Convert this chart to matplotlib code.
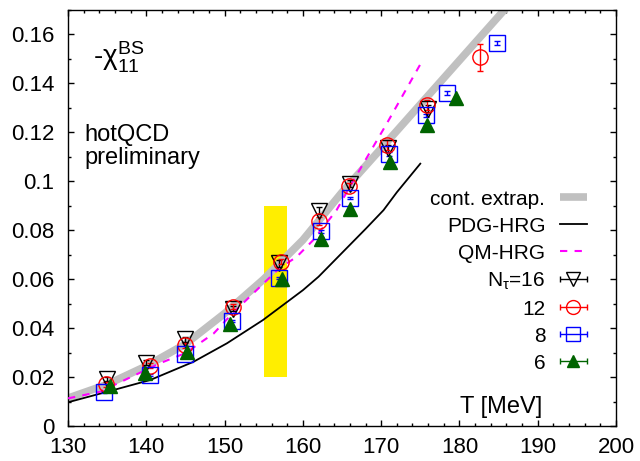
import numpy as np
import matplotlib
matplotlib.use('Agg')
import matplotlib.pyplot as plt
from matplotlib.legend_handler import HandlerErrorbar

plt.rcParams['font.family'] = ['Liberation Sans', 'DejaVu Sans']
plt.rcParams['mathtext.fontset'] = 'custom'
plt.rcParams['mathtext.rm'] = 'Liberation Sans'
plt.rcParams['mathtext.it'] = 'Liberation Sans:italic'

# continuum extrapolation band
T_cont = [130, 135, 140, 145, 150, 155, 160, 165, 170, 175, 180, 186]
v_cont = [0.0114, 0.017, 0.0245, 0.0335, 0.046, 0.060, 0.076, 0.0955, 0.1134, 0.1314, 0.1494, 0.171]

# HRG curves
T_pdg = [130, 135, 140.5, 146, 150.3, 154.9, 160, 162, 168, 170.3, 172, 175]
v_pdg = [0.0097, 0.0140, 0.0188, 0.0262, 0.0338, 0.0433, 0.0555, 0.0610, 0.0805, 0.0882, 0.0955, 0.1072]
T_qm = [130, 134.1, 141.7, 145, 148.6, 151, 157, 159.2, 161.3, 164.3, 166.4, 170.7, 175]
v_qm = [0.0113, 0.0140, 0.0256, 0.0298, 0.0378, 0.046, 0.0645, 0.0691, 0.0759, 0.0882, 0.1000, 0.1235, 0.1478]

# lattice data
T16 = [135.0, 140.0, 145.0, 151.1, 157.0, 162.1, 166.0, 170.9, 176.0]
c16 = [0.0192, 0.0258, 0.0355, 0.0480, 0.0665, 0.0880, 0.0990, 0.1135, 0.1297]
e16 = [0.001, 0.001, 0.001, 0.001, 0.0015, 0.0015, 0.0015, 0.0015, 0.0015]

T12 = [134.9, 140.5, 145.0, 151.1, 157.2, 162.0, 165.9, 170.8, 175.8, 182.6]
c12 = [0.0171, 0.0246, 0.0330, 0.0488, 0.0672, 0.0838, 0.0980, 0.1147, 0.1313, 0.1506]
e12 = [0.001, 0.001, 0.001, 0.001, 0.001, 0.0015, 0.0015, 0.002, 0.002, 0.0055]

T8 = [134.6, 140.5, 145.0, 151.0, 156.9, 162.3, 166.0, 171.0, 175.7, 178.4, 184.8]
c8 = [0.0140, 0.0208, 0.0293, 0.0430, 0.0605, 0.0795, 0.0932, 0.1113, 0.1269, 0.1359, 0.1567]
e8 = [0.0005, 0.0005, 0.0005, 0.0005, 0.0005, 0.0005, 0.0005, 0.0008, 0.0008, 0.0008, 0.0008]

T6 = [135.4, 139.8, 145.2, 150.7, 157.3, 162.3, 166.0, 171.1, 175.8, 179.5]
c6 = [0.0163, 0.0218, 0.0303, 0.0415, 0.0599, 0.0766, 0.0886, 0.1078, 0.1229, 0.1340]
e6 = [0.0005, 0.0005, 0.0005, 0.0005, 0.0005, 0.0005, 0.0005, 0.0005, 0.0005, 0.0005]

# pseudo-critical temperature band
Tc_band = [155, 158]
Tc_y = [0.02, 0.09]

fig = plt.figure(figsize=(6.4, 4.61), dpi=100)
ax = fig.add_axes([0.1063, 0.0759, 0.8562, 0.9024])

ax.fill_between(Tc_band, Tc_y[0], Tc_y[1], color='#ffee00', lw=0, zorder=1)
l_cont, = ax.plot(T_cont, v_cont, color='#c0c0c0', lw=5.5, solid_capstyle='butt', zorder=2)
l_pdg, = ax.plot(T_pdg, v_pdg, color='black', lw=1.3, zorder=3)
l_qm, = ax.plot(T_qm, v_qm, color='#ff00ff', lw=1.5, dashes=(3.5, 3.5), zorder=3)

sets = [
    (T16, c16, e16, 'v', 'black', 'none', 11, r'N$_{\mathrm{\tau}}$=16'),
    (T12, c12, e12, 'o', 'red', 'none', 11, '12'),
    (T8, c8, e8, 's', 'blue', 'none', 11, '8'),
    (T6, c6, e6, '^', '#006400', '#006400', 10, '6'),
]
handles = [l_cont, l_pdg, l_qm]
labels = ['cont. extrap.', 'PDG-HRG', 'QM-HRG']
for T, c, e, m, col, fc, ms, lab in sets:
    ax.errorbar(T, c, yerr=e, fmt=m, color=col, mfc=fc, mec=col, ms=ms, mew=1,
                elinewidth=1, capsize=2.4, zorder=4)
    h = ax.errorbar([np.nan], [np.nan], xerr=[1], fmt=m, color=col, mfc=fc, mec=col,
                    ms=ms - 1, mew=1, elinewidth=1, capsize=2.5)
    handles.append(h)
    labels.append(lab)

ax.set_xlim(130, 200)
ax.set_ylim(0, 0.17)
ax.set_xticks(np.arange(130, 201, 10))
ax.set_xticks(np.arange(130, 201, 2), minor=True)
ax.set_yticks(np.arange(0, 0.161, 0.02))
ax.set_yticks(np.arange(0, 0.171, 0.01), minor=True)
ax.set_yticklabels(['0', '0.02', '0.04', '0.06', '0.08', '0.1', '0.12', '0.14', '0.16'])
ax.tick_params(which='both', direction='in', top=True, right=True, labelsize=16)
ax.tick_params(which='major', length=4.5, width=1)
ax.tick_params(which='minor', length=2.2, width=1)
ax.tick_params(axis='x', pad=8)
ax.tick_params(axis='y', pad=10)
for s in ax.spines.values():
    s.set_linewidth(1)

ax.text(0.045, 0.885, r'-$\mathrm{\chi}_{11}^{\mathrm{BS}}$', transform=ax.transAxes,
        fontsize=20, ha='left', va='center')
ax.text(0.03, 0.672, 'hotQCD\npreliminary', transform=ax.transAxes, fontsize=17,
        ha='left', va='center', linespacing=1.05)
ax.text(0.79, 0.045, 'T [MeV]', transform=ax.transAxes, fontsize=17, ha='center', va='center')

leg = ax.legend(handles, labels, loc='upper right', bbox_to_anchor=(0.947, 0.568),
                frameon=False, markerfirst=False, fontsize=15, borderpad=0,
                borderaxespad=0, handlelength=1.3, handletextpad=0.7, labelspacing=0.38,
                handler_map={type(handles[3]): HandlerErrorbar(xerr_size=0.65)})

fig.savefig('out.png', dpi=100)
